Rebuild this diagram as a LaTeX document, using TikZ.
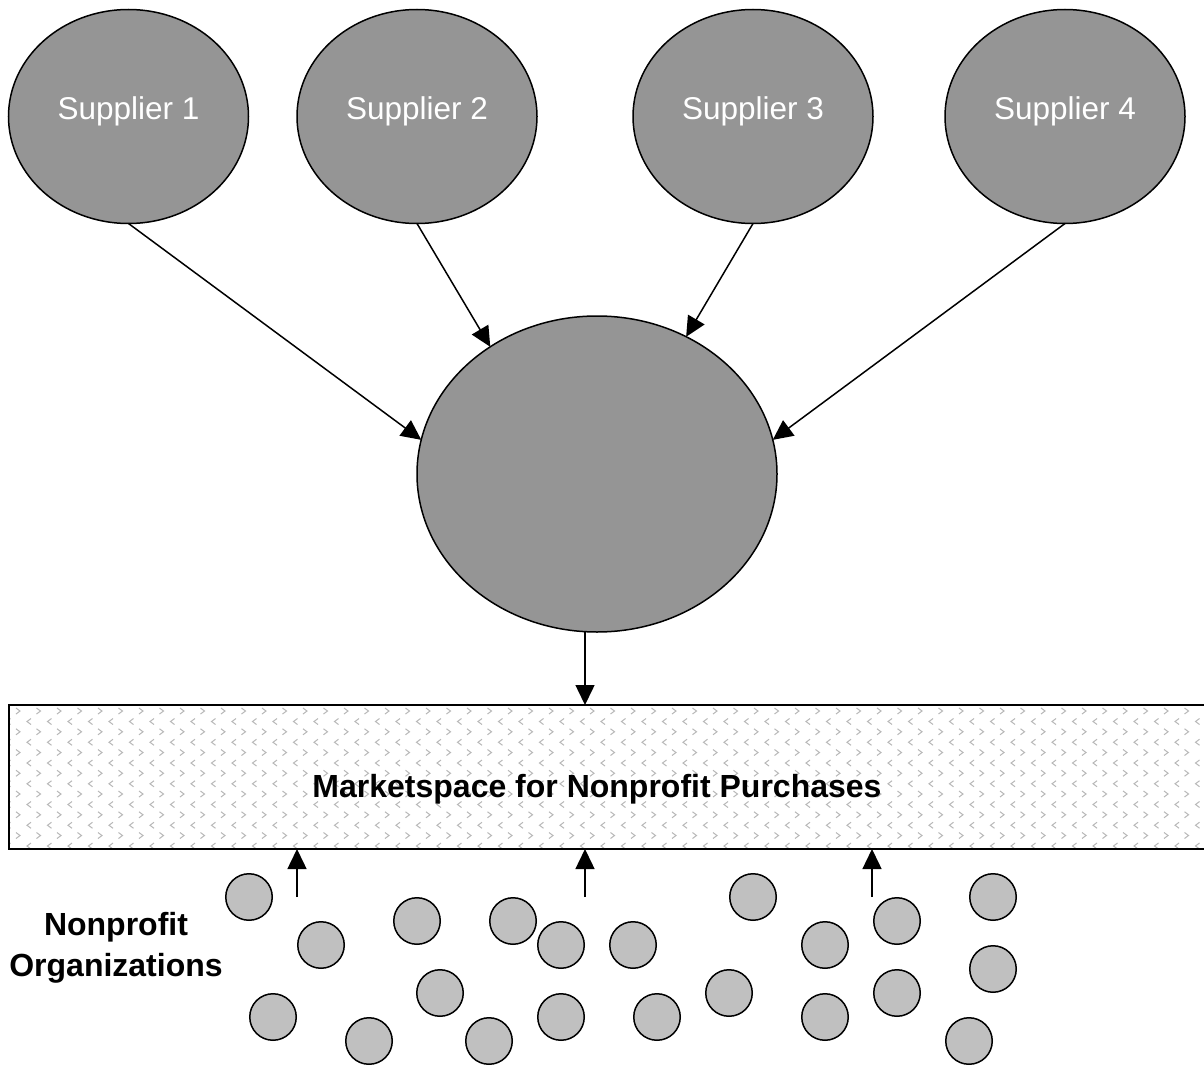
\documentclass[tikz,border=0pt]{standalone}
\usepackage{fontspec}
\setmainfont{Liberation Sans}
\usetikzlibrary{shapes.geometric,arrows.meta,calc}
\definecolor{bigfill}{HTML}{959595}
\definecolor{smallfill}{HTML}{C0C0C0}
\definecolor{patgray}{HTML}{B8B8B8}
\begin{document}
\begin{tikzpicture}[x=1pt,y=-1pt,
  supplier/.style={ellipse,draw=black,fill=bigfill,line width=1.5pt,minimum width=240pt,minimum height=214pt,inner sep=0pt,outer sep=0pt},
  hub/.style={ellipse,draw=black,fill=bigfill,line width=1.5pt,minimum width=360pt,minimum height=316pt,inner sep=0pt,outer sep=0pt},
  org/.style={circle,draw=black,fill=smallfill,line width=1.5pt,minimum size=46.5pt,inner sep=0pt,outer sep=0pt},
  arr/.style={line width=1.5pt,-{Triangle[length=20pt,width=19pt]}},
  stext/.style={text=white,font=\fontsize{31.5}{36}\selectfont,yshift=5pt},
  btext/.style={font=\fontsize{32}{41.5}\selectfont\bfseries,align=center,inner sep=0pt},
  chev/.style={patgray,line width=1pt},
]
\useasboundingbox (0,0) rectangle (1204,1065);
\fill[white] (0,0) rectangle (1204,1065);

% suppliers
\node[supplier,label={[stext]center:Supplier 1}] (s1) at (128.5,116.5) {};
\node[supplier,label={[stext]center:Supplier 2}] (s2) at (417,116.5) {};
\node[supplier,label={[stext]center:Supplier 3}] (s3) at (753,116.5) {};
\node[supplier,label={[stext]center:Supplier 4}] (s4) at (1065,116.5) {};

% hub
\node[hub] (c) at (597,474) {};

% marketspace pattern
\begin{scope}
\clip (9,705) rectangle (1214,849);
\foreach \j in {0,...,59}{\foreach \k in {0,...,6}{
  \draw[chev] ({16+20.5*\j},{708+20.75*\k}) -- ++(4,3) -- ++(-4,3);
  \draw[chev] ({10.5+20.5*\j},{718.5+20.75*\k}) -- ++(-4,3) -- ++(4,3);
}}
\end{scope}
\node[draw=black,line width=1.5pt,minimum width=1205pt,minimum height=144pt,anchor=north west,inner sep=0pt,outer sep=0pt] (mk) at (9,705) {};
\node[btext] (mktext) at (597,789) {Marketspace for Nonprofit Purchases};

% arrows from suppliers
\draw[arr] (s1.south) -- (c.169);
\draw[arr] (s2.south) -- (c.130);
\draw[arr] (s3.south) -- (c.57);
\draw[arr] (s4.south) -- (c.11);

% hub to marketspace
\coordinate (d1) at (585,0);
\draw[arr] (d1 |- c.south) -- (d1 |- mk.north);

% organizations label
\node[btext] (orgs) at (116,948) {Nonprofit\\Organizations};

% organizations
\foreach \p [count=\i] in {(249,897),(321,945),(273,1017),(369,1041),(417,921),(440,993),(489,1041),(513,921),(561,945),(561,1017),(633,945),(657,1017),(729,993),(753,897),(825,945),(825,1017),(897,921),(897,993),(969,1041),(993,897),(993,969)}
  \node[org] (o\i) at \p {};

% up arrows
\coordinate (u1) at (297,897);
\coordinate (u2) at (585,897);
\coordinate (u3) at (872,897);
\draw[arr] (u1) -- (u1 |- mk.south);
\draw[arr] (u2) -- (u2 |- mk.south);
\draw[arr] (u3) -- (u3 |- mk.south);
\end{tikzpicture}
\end{document}
